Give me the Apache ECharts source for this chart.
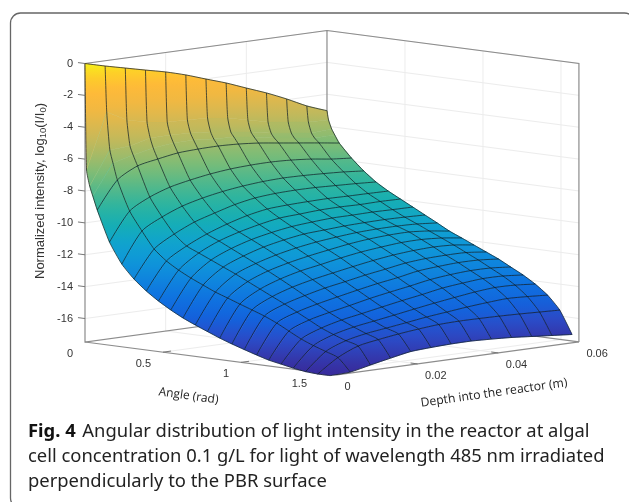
<!DOCTYPE html>
<html><head><meta charset="utf-8">
<style>html,body{margin:0;padding:0;background:#fff}#c{width:629px;height:502px}</style>
<script src="https://cdn.jsdelivr.net/npm/echarts@6/dist/echarts.min.js"></script>
</head><body><div id="c"></div>
<script>
// ---- values ----
const angles = [0,0.01,0.03,0.05,0.0785,0.157,0.236,0.314,0.393,0.471,0.55,0.628,0.707,0.785,0.864,0.942,1.021,1.1,1.178,1.257,1.335,1.414,1.492,1.571];
const unmeshedAngles = [0.01,0.03,0.05];
const depths = [0,0.005,0.01,0.015,0.02,0.025,0.03,0.035,0.04,0.045,0.05,0.055,0.06];
const zA00 = [0,-0.33,-0.63,-0.93,-1.22,-1.58,-2.01,-2.43,-2.92,-3.40,-3.95,-4.56,-5.03];
const zA01 = [-6.67,-3.20,-3.88,-4.18,-4.35,-4.39,-4.44,-4.61,-4.91,-5.21,-5.38,-5.55,-5.60];
const zA03 = [-7.65,-5.56,-5.48,-5.15,-5.14,-5.19,-5.29,-5.47,-5.64,-5.88,-6.05,-6.22,-6.14];
const zA05 = [-8.25,-6.35,-6.02,-5.76,-5.61,-5.60,-5.71,-5.76,-5.93,-6.16,-6.34,-6.51,-6.49];
const zR01 = [-9.09,-7.38,-6.67,-6.41,-6.20,-6.13,-6.11,-6.16,-6.27,-6.44,-6.61,-6.78,-6.96];
const zR02 = [-11.00,-9.23,-8.52,-8.07,-7.80,-7.59,-7.45,-7.38,-7.36,-7.41,-7.52,-7.69,-7.80];
const zR03 = [-12.28,-10.38,-9.67,-9.16,-8.83,-8.59,-8.42,-8.31,-8.26,-8.28,-8.33,-8.40,-8.51];
const zR04 = [-13.12,-11.41,-10.64,-10.06,-9.67,-9.31,-9.07,-8.96,-8.92,-8.93,-8.98,-9.03,-9.10];
const zR05 = [-13.77,-12.06,-11.29,-10.71,-10.26,-9.90,-9.66,-9.58,-9.54,-9.52,-9.54,-9.55,-9.57];
const zR06 = [-14.30,-12.53,-11.63,-11.05,-10.66,-10.36,-10.13,-10.05,-9.97,-9.95,-9.97,-9.95,-9.97];
const zR07 = [-14.76,-12.93,-11.97,-11.42,-11.03,-10.76,-10.56,-10.45,-10.37,-10.36,-10.34,-10.36,-10.37];
const zR08 = [-15.16,-13.27,-12.31,-11.79,-11.40,-11.13,-10.93,-10.85,-10.77,-10.73,-10.71,-10.73,-10.77];
const zR09 = [-15.50,-13.61,-12.65,-12.16,-11.80,-11.53,-11.33,-11.19,-11.08,-11.03,-11.02,-11.06,-11.17];
const zR10 = [-15.81,-13.88,-13.02,-12.53,-12.20,-11.94,-11.73,-11.53,-11.39,-11.31,-11.29,-11.40,-11.58];
const zR11 = [-16.12,-14.16,-13.39,-12.93,-12.60,-12.37,-12.13,-11.93,-11.79,-11.68,-11.66,-11.74,-11.91];
const zR12 = [-16.39,-14.43,-13.76,-13.34,-13.04,-12.80,-12.57,-12.36,-12.19,-12.08,-12.03,-12.08,-12.25];
const zR13 = [-16.64,-14.71,-14.13,-13.77,-13.47,-13.24,-13.00,-12.80,-12.59,-12.48,-12.44,-12.45,-12.59];
const zR14 = [-16.88,-15.05,-14.53,-14.20,-13.93,-13.67,-13.43,-13.23,-12.99,-12.88,-12.81,-12.82,-12.93];
const zR15 = [-17.10,-15.45,-14.93,-14.63,-14.37,-14.10,-13.87,-13.66,-13.43,-13.29,-13.21,-13.22,-13.33];
const zR16 = [-17.25,-15.85,-15.33,-15.00,-14.77,-14.53,-14.30,-14.09,-13.86,-13.72,-13.61,-13.62,-13.73];
const zR17 = [-17.40,-16.16,-15.64,-15.34,-15.14,-14.94,-14.73,-14.53,-14.35,-14.18,-14.07,-14.09,-14.20];
const zR18 = [-17.52,-16.43,-15.92,-15.65,-15.48,-15.31,-15.13,-14.99,-14.85,-14.74,-14.66,-14.71,-14.79];
const zR19 = [-17.57,-16.71,-16.16,-15.93,-15.75,-15.61,-15.50,-15.46,-15.47,-15.49,-15.53,-15.58,-15.63];
const zR20 = [-17.57,-17.52,-17.25,-16.99,-16.75,-16.67,-16.62,-16.61,-16.66,-16.73,-16.84,-16.95,-17.06];
const zRows = [zA00,zA01,zA03,zA05,zR01,zR02,zR03,zR04,zR05,zR06,zR07,zR08,zR09,zR10,zR11,zR12,zR13,zR14,zR15,zR16,zR17,zR18,zR19,zR20];

const zTicks = [0,-2,-4,-6,-8,-10,-12,-14,-16];
const angleTicks = [0,0.5,1,1.5];
const depthTicks = [0,0.02,0.04,0.06];
const angleMax = 1.615, depthMax = 0.06, zTop = 0, zFloor = -17.47;

const zTitle = '{t|Normalized intensity, log}{s|10}{t|(I/I}{s|0}{t|)}';
const angleTitle = 'Angle (rad)';
const depthTitle = 'Depth into the reactor (m)';
const captionLead = 'Fig. 4';
const captionLines = ['Angular distribution of light intensity in the reactor at algal',
  'cell concentration 0.1 g/L for light of wavelength 485 nm irradiated',
  'perpendicularly to the PBR surface'];

// colour ramp: z value -> colour
const rampZ = [0,-0.7,-1.8,-3,-4,-5,-6,-7,-8,-9,-10,-11,-12,-13,-14,-15,-16,-17,-17.6];
const rampC = ['#f6f21a','#fdd226','#ffba38','#f0b842','#d9b850','#c0b95c','#9ebb6a','#78bc78','#50b88c','#2cb4a0','#16aeb4','#10a4cc','#0f98d8','#0f86dd','#0f73e0','#1362dc','#2a4cc8','#3535a8','#38299a'];

// ---- projection of the 3-D box on the page plane ----
const proj = {ox:85, ax:156, dx:4033, oy:63.5, ay:20.4, dy:-550, zy:-15.94};
function project(a,d,z){ return [proj.ox+proj.ax*a+proj.dx*d, proj.oy+proj.ay*a+proj.dy*d+proj.zy*z]; }

function hex(c){ return [1,3,5].map(k=>parseInt(c.substr(k,2),16)); }
function colorOf(z){
  if(z>=rampZ[0]) return rampC[0];
  for(let k=1;k<rampZ.length;k++){
    if(z>=rampZ[k]){
      const t=(rampZ[k-1]-z)/(rampZ[k-1]-rampZ[k]), p=hex(rampC[k-1]), q=hex(rampC[k]);
      return 'rgb('+p.map((v,n)=>Math.round(v+(q[n]-v)*t)).join(',')+')';
    }
  }
  return rampC[rampC.length-1];
}
function gradient(zFrom,zTo){
  const stops=[], n=Math.max(1,Math.ceil(Math.abs(zFrom-zTo)/0.5));
  for(let k=0;k<=n;k++) stops.push({offset:k/n,color:colorOf(zFrom+(zTo-zFrom)*k/n)});
  return new echarts.graphic.LinearGradient(0,0,0,1,stops);
}

function layer(name,items,render){
  return {type:'custom',name,coordinateSystem:'cartesian2d',silent:true,clip:false,animation:false,
    data:items.map((_,i)=>[i]),
    renderItem:(p,api)=>render(items[api.value(0)],api)};
}
function lineEl(pts,api,stroke,w,smooth){
  return {type:'polyline',shape:{points:pts.map(q=>api.coord(project(q[0],q[1],q[2]))),smooth:smooth||0},
    style:{stroke,lineWidth:w,fill:null}};
}
function textEl(api,q,off,text,extra){
  const c=api.coord(project(q[0],q[1],q[2]));
  return {type:'text',x:c[0]+off[0],y:c[1]+off[1],rotation:extra.rotation||0,
    style:Object.assign({text,fill:'#333',verticalAlign:'middle'},extra.style)};
}

// walls + floor grid
const gridLines=[];
zTicks.forEach(z=>{
  gridLines.push([[0,0,z],[0,depthMax,z]]);
  gridLines.push([[0,depthMax,z],[angleMax,depthMax,z]]);
});
depthTicks.slice(1,3).forEach(d=>{
  gridLines.push([[0,d,zFloor],[0,d,zTop]]);
  gridLines.push([[0,d,zFloor],[angleMax,d,zFloor]]);
});
angleTicks.slice(1).forEach(a=>{
  gridLines.push([[a,depthMax,zFloor],[a,depthMax,zTop]]);
  gridLines.push([[a,0,zFloor],[a,depthMax,zFloor]]);
});
// box edges
const boxEdges=[
  [[0,0,zTop],[0,depthMax,zTop],[angleMax,depthMax,zTop],[angleMax,depthMax,zFloor]],
  [[0,0,zTop],[0,0,zFloor],[0,depthMax,zFloor],[0,depthMax,zTop]],
  [[0,depthMax,zFloor],[angleMax,depthMax,zFloor]],
  [[0,0,zFloor],[angleMax,0,zFloor],[angleMax,depthMax,zFloor]]
];
// ticks
const tickMarks=[];
zTicks.forEach(z=>tickMarks.push([[-0.045,0,z],[0,0,z]]));
angleTicks.slice(1).forEach(a=>tickMarks.push([[a,0,zFloor],[a,0.002,zFloor]]));
depthTicks.slice(1,3).forEach(d=>tickMarks.push([[angleMax,d,zFloor],[angleMax-0.045,d,zFloor]]));

// surface cells
const cells=[];
for(let r=0;r<angles.length-1;r++) for(let c=0;c<depths.length-1;c++) cells.push([r,c]);
function corner(r,c){ return [angles[r],depths[c],zRows[r][c]]; }

// mesh lines
const meshLines=[];
angles.forEach((a,r)=>{ if(!unmeshedAngles.includes(a)) meshLines.push({smooth:0.25,pts:depths.map((d,c)=>corner(r,c))}); });
depths.forEach((d,c)=>{ meshLines.push({smooth:0.2,pts:angles.map((a,r)=>corner(r,c))}); });

const font='"Liberation Sans",Arial,sans-serif';
const labels=[];
zTicks.forEach(z=>labels.push({q:[0,0,z],off:[-12,0],text:String(z),style:{align:'right',font:'11px '+font}}));
angleTicks.forEach(a=>labels.push({q:[a,0,zFloor],off:[-12,11.5],text:String(a),style:{align:'right',font:'11px '+font}}));
depthTicks.forEach(d=>labels.push({q:[angleMax,d,zFloor],off:[7.5,12],text:String(d),style:{align:'left',font:'11px '+font}}));

const capFont='"Noto Sans",sans-serif';
const chart=echarts.init(document.getElementById('c'),null,{renderer:'canvas'});
chart.setOption({
  animation:false,
  backgroundColor:'#fff',
  grid:{left:0,right:0,top:0,bottom:0},
  xAxis:{type:'value',min:0,max:629,show:false},
  yAxis:{type:'value',min:0,max:502,inverse:true,show:false},
  graphic:[
    {type:'rect',shape:{x:10.5,y:13,width:624,height:495,r:10},style:{fill:'transparent',stroke:'#666',lineWidth:1.3},silent:true}
  ],
  series:[
    layer('grid',gridLines,(l,api)=>lineEl(l,api,'#ececec',1)),
    layer('box',boxEdges,(l,api)=>lineEl(l,api,'#8c8c8c',1.2)),
    layer('ticks',tickMarks,(l,api)=>lineEl(l,api,'#777',1)),
    layer('surface',cells,(cell,api)=>{
      const [r,c]=cell;
      const ps=[corner(r,c),corner(r,c+1),corner(r+1,c+1),corner(r+1,c)];
      const pts=ps.map(q=>api.coord(project(q[0],q[1],q[2])));
      const order=pts.map((p,k)=>[p[1],ps[k][2]]).sort((x,y)=>x[0]-y[0]);
      const avg=ps.reduce((s,q)=>s+q[2],0)/4;
      return {type:'polygon',shape:{points:pts},style:{
        fill:gradient(order[0][1],order[3][1]),
        stroke:colorOf(avg),lineWidth:0.5}};
    }),
    layer('mesh',meshLines,(m,api)=>lineEl(m.pts,api,'rgba(10,25,30,0.78)',0.9,m.smooth)),
    layer('labels',labels,(l,api)=>textEl(api,l.q,l.off,l.text,{style:l.style})),
    layer('titles',[0],(t,api)=>({type:'group',children:[
      {type:'text',x:40,y:191,rotation:Math.PI/2,style:{text:zTitle,align:'center',verticalAlign:'middle',
        rich:{t:{font:'13px '+font,fill:'#333',lineHeight:16,verticalAlign:'middle'},s:{font:'9.5px '+font,fill:'#333',lineHeight:9,verticalAlign:'bottom'}}}},
      {type:'text',x:188.5,y:396,rotation:-0.14,style:{text:angleTitle,align:'center',verticalAlign:'middle',fill:'#222',font:'12px "Open Sans",sans-serif'}},
      {type:'text',x:494,y:393,rotation:0.14,style:{text:depthTitle,align:'center',verticalAlign:'middle',fill:'#222',font:'12.2px "Open Sans",sans-serif'}},
      {type:'text',x:28,y:431.5,style:{text:'{b|'+captionLead+'}  {r|'+captionLines[0]+'}',align:'left',verticalAlign:'middle',
        rich:{b:{font:'bold 18.4px '+capFont,fill:'#111'},r:{font:'18.4px '+capFont,fill:'#222'}}}},
      {type:'text',x:28,y:456.5,style:{text:captionLines[1],align:'left',verticalAlign:'middle',font:'18.4px '+capFont,fill:'#222'}},
      {type:'text',x:28,y:481.5,style:{text:captionLines[2],align:'left',verticalAlign:'middle',font:'18.4px '+capFont,fill:'#222'}}
    ]}))
  ]
});
</script></body></html>
